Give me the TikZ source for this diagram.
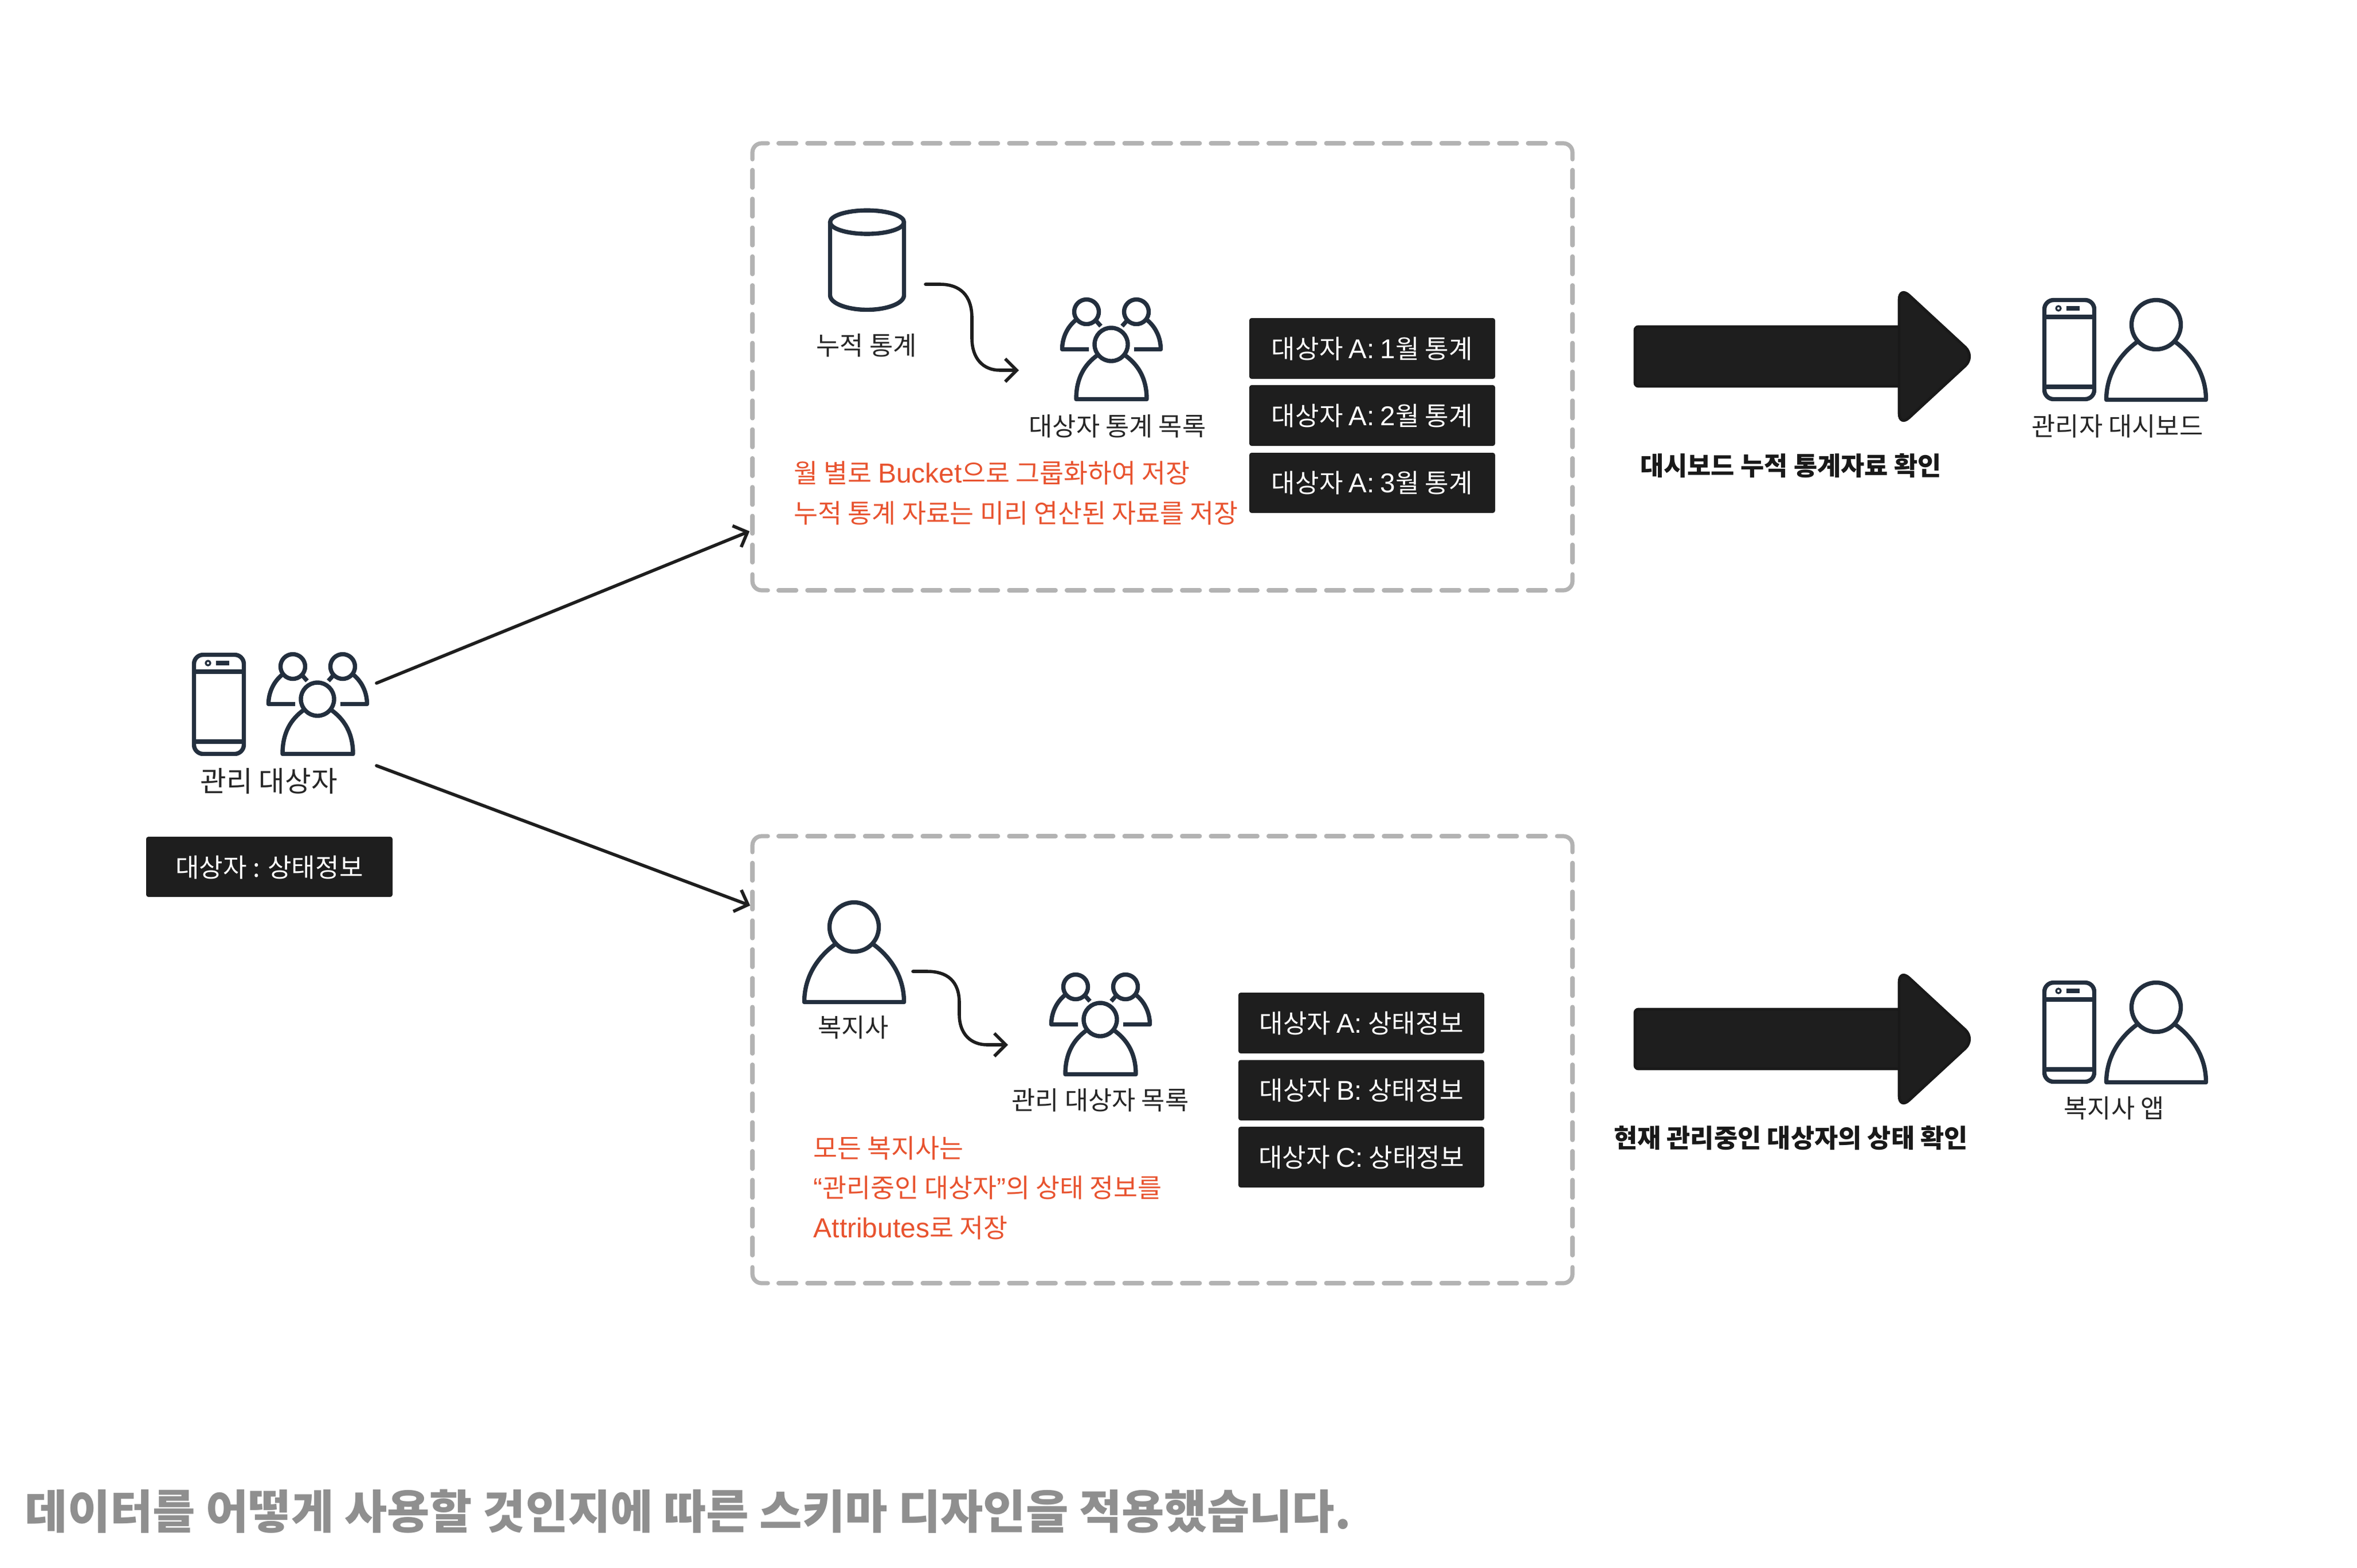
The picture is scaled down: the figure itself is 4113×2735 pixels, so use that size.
\documentclass[tikz,border=0pt]{standalone}
\usepackage{fontspec}
\setmainfont{Noto Sans CJK KR}
\newfontfamily\lat[Scale=1.05]{Liberation Sans}
\usetikzlibrary{arrows.meta}
\definecolor{ink}{HTML}{232F3E}
\definecolor{panel}{HTML}{1E1E1E}
\definecolor{panelline}{HTML}{191919}
\definecolor{note}{HTML}{E8532F}
\definecolor{dashc}{HTML}{B3B3B3}
\definecolor{titlec}{HTML}{8F8F8F}
\tikzset{
  x=0.25pt,y=-0.25pt,
  icon/.style={draw=ink,line width=1.85pt,line join=round},
  frameedge/.style={draw=dashc,line width=1.8pt,line cap=round,dash pattern=on 7.75pt off 4.825pt},
  framecorner/.style={draw=dashc,line width=1.8pt,line cap=round,rounded corners=4pt},
  flow/.style={draw=panel,line width=1.4pt,line cap=round,-{Straight Barb[length=5pt,width=10pt,line width=1.4pt]}},
  bigshaft/.style={fill=panel,draw=panelline,line width=1.2pt,rounded corners=1.5pt},
  bighead/.style={fill=panel,draw=panelline,line width=1.2pt,rounded corners=6pt},
  tag/.style={font=\fontsize{11.2pt}{13pt}\selectfont,text=black!85,inner sep=0pt},
  chip/.style={tag,font=\fontsize{11.3pt}{13pt}\selectfont,text=white},
  chipbox/.style={fill=panel,rounded corners=1pt},
  rednote/.style={font=\fontsize{11.4pt}{13pt}\selectfont,text=note,anchor=west,inner sep=0pt},
  boldtag/.style={font=\fontsize{11.2pt}{13pt}\selectfont\bfseries,text=black!90,inner sep=0pt},
}
\newcommand{\drawframe}[2]{%
  \begin{scope}[shift={(#1,#2)}]
    \draw[frameedge] (45.5,0) -- (1384.5,0);
    \draw[frameedge] (45.5,780) -- (1384.5,780);
    \draw[frameedge] (0,46.5) -- (0,731.5);
    \draw[frameedge] (1431,46.5) -- (1431,731.5);
    \draw[framecorner] (0,28) -- (0,0) -- (27,0);
    \draw[framecorner] (1404,0) -- (1431,0) -- (1431,28);
    \draw[framecorner] (0,752) -- (0,780) -- (27,780);
    \draw[framecorner] (1404,780) -- (1431,780) -- (1431,752);
  \end{scope}}
\newcommand{\drawperson}[2]{%
  \begin{scope}[shift={(#1,#2)}]
    \draw[icon] (90.5,46.5) circle[radius=43];
    \draw[icon] (58,76) .. controls (25,100) and (3.5,135) .. (3.5,177.5) -- (177.5,177.5) .. controls (177.5,135) and (156,100) .. (123,76);
  \end{scope}}
\newcommand{\drawgroup}[2]{%
  \begin{scope}[shift={(#1,#2)}]
    \draw[icon] (46,24) circle[radius=21.5];
    \draw[icon] (133,24) circle[radius=21.5];
    \draw[icon] (29,37) .. controls (12,50) and (3.5,70) .. (3.5,89.5) -- (50,89.5);
    \draw[icon] (150,37) .. controls (167,50) and (175.5,70) .. (175.5,89.5) -- (129,89.5);
    \draw[icon] (62,39) -- (71,49);
    \draw[icon] (117,39) -- (108,49);
    \draw[icon] (89,81) circle[radius=29];
    \draw[icon] (66,99) .. controls (42,116) and (28,140) .. (28,176.5) -- (151,176.5) .. controls (151,140) and (136,116) .. (112,99);
  \end{scope}}
\newcommand{\drawphone}[2]{%
  \begin{scope}[shift={(#1,#2)}]
    \draw[icon,rounded corners=4pt] (3.5,3.5) rectangle (90.5,176.5);
    \draw[icon] (3.5,33) -- (90.5,33);
    \draw[icon] (3.5,155) -- (90.5,155);
    \draw[ink,line width=0.8pt] (28,18) circle[radius=4];
    \fill[ink] (42,14) rectangle (65,22);
  \end{scope}}
\newcommand{\drawbig}[1]{%
  \begin{scope}[shift={(0,#1)}]
    \draw[bigshaft] (2853,570) -- (3330,570) -- (3330,674) -- (2853,674) -- cycle;
    \draw[bighead] (3314,499) -- (3314,745) -- (3447,622) -- cycle;
  \end{scope}}
\begin{document}
\begin{tikzpicture}
\useasboundingbox (0,0) rectangle (4113,2735);
\fill[white] (0,0) rectangle (4113,2735);
% frames
\drawframe{1313}{250}
\drawframe{1313}{1459}
% left group
\drawphone{335}{1139}
\drawgroup{465}{1139}
\node[tag,font=\fontsize{12.4pt}{14pt}\selectfont] (managed) at (469,1363) {관리 대상자};
\fill[chipbox] (255,1460) rectangle (685,1565);
\node[chip] (status) at (470,1514) {대상자 : 상태정보};
% top box
\draw[icon] (1513,387.6) ellipse[x radius=64.5,y radius=20.5];
\draw[icon] (1448.5,387.6) -- (1448.5,515) .. controls (1448.5,530) and (1480,540.5) .. (1513,540.5) .. controls (1546,540.5) and (1577.5,530) .. (1577.5,515) -- (1577.5,387.6);
\node[tag] (cum) at (1512,603) {누적 통계};
\drawgroup{1850}{520}
\node[tag] (statlist) at (1950,744) {대상자 통계 목록};
\fill[chipbox] (2180,555) rectangle (2609,661);
\fill[chipbox] (2180,672) rectangle (2609,778);
\fill[chipbox] (2180,790) rectangle (2609,895);
\node[chip] (s1) at (2394.5,609) {대상자 {\lat A:} {\lat 1}월 통계};
\node[chip] (s2) at (2394.5,726) {대상자 {\lat A:} {\lat 2}월 통계};
\node[chip] (s3) at (2394.5,843) {대상자 {\lat A:} {\lat 3}월 통계};
\node[rednote] (n1) at (1385,825) {월 별로 {\lat Bucket}으로 그룹화하여 저장};
\node[rednote] (n2) at (1385,895) {누적 통계 자료는 미리 연산된 자료를 저장};
% bottom box
\drawperson{1400}{1571}
\node[tag] (welfare) at (1489,1793) {복지사};
\drawgroup{1831}{1698}
\node[tag] (mlist) at (1920,1920) {관리 대상자 목록};
\fill[chipbox] (2161,1732) rectangle (2590,1838);
\fill[chipbox] (2161,1849.5) rectangle (2590,1955);
\fill[chipbox] (2161,1966) rectangle (2590,2072);
\node[chip] (a1) at (2375.5,1786) {대상자 {\lat A:} 상태정보};
\node[chip] (a2) at (2375.5,1903) {대상자 {\lat B:} 상태정보};
\node[chip] (a3) at (2375.5,2020) {대상자 {\lat C:} 상태정보};
\node[rednote] (m1) at (1419,2003) {모든 복지사는};
\node[rednote] (m2) at (1419,2072) {{\lat “}관리중인 대상자{\lat ”}의 상태 정보를};
\node[rednote] (m3) at (1419,2142) {{\lat Attributes}로 저장};
% connectors
\coordinate (upS) at (657,1192);
\coordinate (upE) at (1308,927);
\coordinate (dnS) at (657,1336);
\coordinate (dnE) at (1309,1580);
\draw[flow] (upS) -- (upE);
\draw[flow] (dnS) -- (dnE);
\coordinate (c1S) at (1615,496);
\coordinate (c1E) at (1778,646);
\draw[flow] (c1S) -- (1640,496) .. controls (1675,496) and (1696,515) .. (1696,555) -- (1696,590) .. controls (1696,625) and (1715,646) .. (1745,646) -- (c1E);
\coordinate (c2S) at (1593,1695);
\coordinate (c2E) at (1759,1823);
\draw[flow] (c2S) -- (1618,1695) .. controls (1653,1695) and (1674,1712) .. (1674,1750) -- (1674,1770) .. controls (1674,1803) and (1693,1823) .. (1723,1823) -- (c2E);
% right
\drawbig{0}
\drawbig{1191}
\drawphone{3564}{520}
\drawperson{3672}{520}
\node[tag] (dash) at (3695,744) {관리자 대시보드};
\node[boldtag] (d1) at (3125,813) {대시보드 누적 통계자료 확인};
\drawphone{3564}{1711}
\drawperson{3672}{1711}
\node[tag] (app) at (3689,1934) {복지사 앱};
\node[boldtag] (d2) at (3125,1986) {현재 관리중인 대상자의 상태 확인};
% caption
\node[font=\fontsize{20.2pt}{24pt}\selectfont\bfseries,text=titlec,anchor=west,inner sep=0pt] (cap) at (43,2637) {데이터를 어떻게 사용할 것인지에 따른 스키마 디자인을 적용했습니다.};
\end{tikzpicture}
\end{document}
